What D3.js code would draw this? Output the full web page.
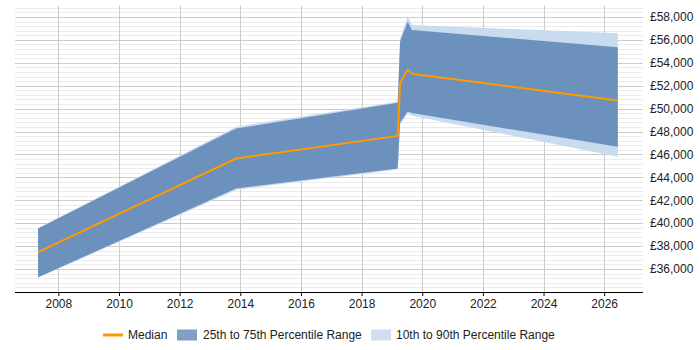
<!DOCTYPE html>
<html>
<head>
<meta charset="utf-8">
<script src="https://cdn.jsdelivr.net/npm/d3@7"></script>
<style>
  body { margin: 0; background: #fff; }
  text { font-family: "Liberation Sans", Arial, sans-serif; font-size: 12px; fill: #222; }
</style>
</head>
<body>
<div id="chart"></div>
<script>
// time points (decimal years) and the salary series
const years  = [2007.33, 2013.86, 2019.19, 2019.27, 2019.52, 2019.66, 2026.45];
const median = [37480, 45650, 47620, 52230, 53390, 53040, 50720];
const p25    = [35280, 43040, 44780, 48780, 49760, 49610, 46670];
const p75    = [39540, 48260, 50520, 55850, 57590, 56870, 55360];
const p10    = [35250, 42910, 44700, 48600, 49560, 49390, 45800];
const p90    = [39560, 48430, 50600, 56150, 58090, 57300, 56580];

const xTicks = [2008, 2010, 2012, 2014, 2016, 2018, 2020, 2022, 2024, 2026];
const yTicks = [36000, 38000, 40000, 42000, 44000, 46000, 48000, 50000, 52000, 54000, 56000, 58000];
const legendItems = ["Median", "25th to 75th Percentile Range", "10th to 90th Percentile Range"];

const width = 700, height = 350;
const plot = {left: 15, right: 643, top: 5.5, bottom: 292};

const svg = d3.select("#chart").append("svg")
    .attr("width", width)
    .attr("height", height);

const x = d3.scaleLinear().domain([2006.57, 2027.28]).range([plot.left, plot.right]);
const y = d3.scaleLinear().domain([34000, 59000]).range([plot.bottom, plot.top]);

// minor gridlines every 400
const minor = d3.range(34400, 59000, 400).filter(v => v % 2000 !== 0);
svg.append("g").selectAll("line")
    .data(minor)
    .enter().append("line")
    .attr("x1", plot.left).attr("x2", plot.right)
    .attr("y1", d => Math.round(y(d)) + 0.5)
    .attr("y2", d => Math.round(y(d)) + 0.5)
    .attr("stroke", "#ebebeb");

// major gridlines
svg.append("g").selectAll("line")
    .data(yTicks)
    .enter().append("line")
    .attr("x1", plot.left).attr("x2", plot.right)
    .attr("y1", d => Math.round(y(d)) + 0.5)
    .attr("y2", d => Math.round(y(d)) + 0.5)
    .attr("stroke", "#cccccc");

svg.append("g").selectAll("line")
    .data(xTicks)
    .enter().append("line")
    .attr("x1", d => Math.round(x(d)) + 0.5)
    .attr("x2", d => Math.round(x(d)) + 0.5)
    .attr("y1", plot.top).attr("y2", plot.bottom)
    .attr("stroke", "#cccccc");

const rows = years.map((yr, i) => ({yr: yr, med: median[i], lo: p25[i], hi: p75[i], lo2: p10[i], hi2: p90[i]}));

const outer = d3.area()
    .x(d => x(d.yr))
    .y0(d => y(d.lo2))
    .y1(d => y(d.hi2));

const inner = d3.area()
    .x(d => x(d.yr))
    .y0(d => y(d.lo))
    .y1(d => y(d.hi));

svg.append("path")
    .datum(rows)
    .attr("d", outer)
    .attr("fill", "#c9dbef");

svg.append("path")
    .datum(rows)
    .attr("d", inner)
    .attr("fill", "#6d91bd");

svg.append("path")
    .datum(rows)
    .attr("d", d3.line().x(d => x(d.yr)).y(d => y(d.med)))
    .attr("fill", "none")
    .attr("stroke", "#ff9900")
    .attr("stroke-width", 2);

// bottom axis
const xAxis = svg.append("g")
    .attr("transform", `translate(0,${plot.bottom})`)
    .call(d3.axisBottom(x).tickValues(xTicks).tickFormat(d3.format("d")).tickSize(4).tickPadding(3));
xAxis.select(".domain").attr("stroke", "#000").attr("d", `M${plot.left},0.5H${plot.right}`);
xAxis.selectAll(".tick line").attr("stroke", "#000");
xAxis.selectAll("text").style("font-size", "12px").attr("fill", "#222");

// right labels
svg.append("g").selectAll("text")
    .data(yTicks)
    .enter().append("text")
    .attr("x", 650)
    .attr("y", d => y(d))
    .attr("dy", "0.35em")
    .text(d => "£" + d3.format(",")(d));

// legend
const lg = svg.append("g").attr("transform", "translate(0,335)");
lg.append("line")
    .attr("x1", 103).attr("x2", 123)
    .attr("y1", 0).attr("y2", 0)
    .attr("stroke", "#ff9900").attr("stroke-width", 3);
lg.append("text").attr("x", 128).attr("dy", "0.35em").text(legendItems[0]);
lg.append("rect").attr("x", 177).attr("y", -5.5).attr("width", 20).attr("height", 11).attr("fill", "#7f9fc6");
lg.append("text").attr("x", 203).attr("dy", "0.35em").text(legendItems[1]);
lg.append("rect").attr("x", 371).attr("y", -5.5).attr("width", 20).attr("height", 11).attr("fill", "#cddff0");
lg.append("text").attr("x", 396).attr("dy", "0.35em").text(legendItems[2]);
</script>
</body>
</html>
